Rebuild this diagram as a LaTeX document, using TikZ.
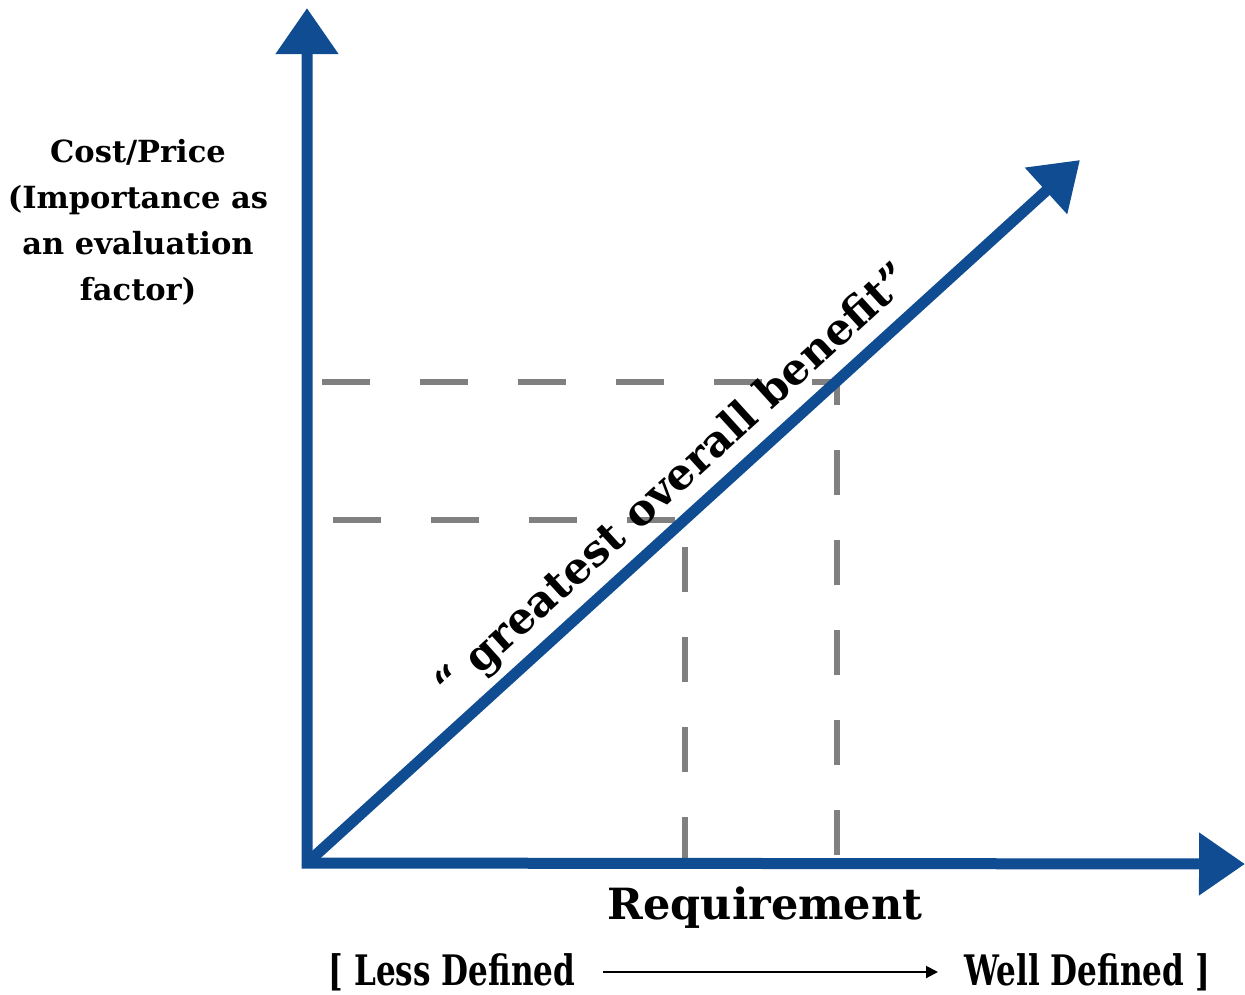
\documentclass[tikz,border=0pt]{standalone}
\usepackage{fontspec}
\setmainfont{DejaVu Serif}
\newfontfamily\slabnarrow{DejaVu Serif}[FakeStretch=0.74]
\usetikzlibrary{arrows.meta}
\definecolor{axisblue}{RGB}{16,76,145}
\definecolor{guidegray}{RGB}{128,128,128}
\begin{document}
\begin{tikzpicture}[x=1pt,y=-1pt,
  axis/.style={draw=axisblue, line width=11pt, line join=miter},
  bigtip/.tip={Triangle[length=46pt,width=60pt]},
  hguide/.style={draw=guidegray, line width=6pt, dash pattern=on 48pt off 50pt},
  vguide/.style={draw=guidegray, line width=6pt, dash pattern=on 45pt off 45pt},
  label/.style={inner sep=0pt, text=black, font=\bfseries}]
  \useasboundingbox (0,0) rectangle (1245,994);

  % axes and the diagonal
  \coordinate (O) at (307,863);
  \coordinate (Ytip) at (307,8);
  \coordinate (Xtip) at (1245,864);
  \coordinate (Dtip) at (1080,160);

  % guide points where the dashed lines meet the diagonal and the axes
  \coordinate (H1s) at (322,382);
  \coordinate (P1) at (837,382);
  \coordinate (B1) at (837,855);
  \coordinate (H2s) at (333,520);
  \coordinate (P2) at (685,520);
  \coordinate (B2) at (685,862);

  \draw[hguide] (H1s) -- (P1);
  \draw[vguide] (B1) -- (P1);
  \draw[hguide] (H2s) -- (P2);
  \draw[vguide] (B2) -- (P2);

  \draw[axis, {bigtip}-{bigtip}] (Ytip) -- (O) -- (Xtip);
  \draw[axis, -{bigtip}] (O) -- (Dtip)
    node[pos=0.505, sloped, above=7pt, inner sep=0pt, font=\bfseries\fontsize{43}{43}\selectfont] (benefit)
      {“ greatest overall benefit”};

  % axis titles
  \node[label, align=center, font=\bfseries\fontsize{30.5}{46}\selectfont] (ytitle) at (138,222)
    {Cost/Price\\(Importance as\\an evaluation\\factor)};
  \node[label, font=\bfseries\fontsize{43}{43}\selectfont] (xtitle) at (765,908) {Requirement};

  % scale under the x axis
  \node[label, font=\slabnarrow\bfseries\fontsize{42}{42}\selectfont] (less) at (452,972) {[ Less Defined};
  \node[label, font=\slabnarrow\bfseries\fontsize{42}{42}\selectfont] (well) at (1087,972) {Well Defined ]};
  \coordinate (Ls) at (603,972);
  \coordinate (Le) at (938,972);
  \draw[line width=2pt, -{Triangle[length=12pt,width=12pt]}] (Ls) -- (Le);
\end{tikzpicture}
\end{document}
